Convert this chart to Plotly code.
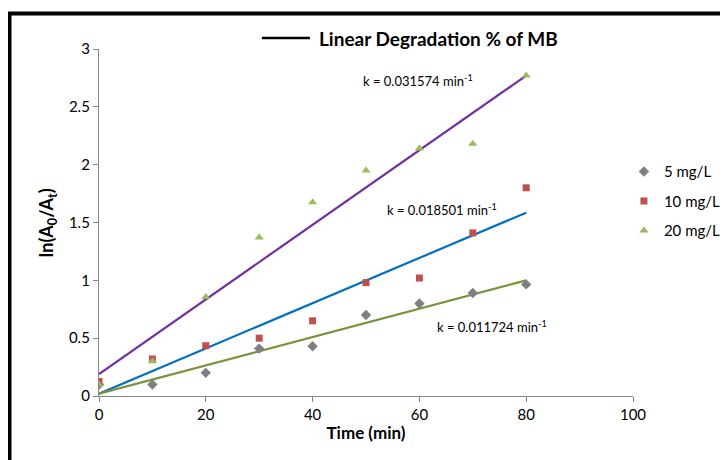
import plotly.graph_objects as go

# ---- data ----
time_min = [0, 10, 20, 30, 40, 50, 60, 70, 80]
mg5 = [0.10, 0.10, 0.20, 0.41, 0.43, 0.70, 0.80, 0.89, 0.965]
mg10 = [0.125, 0.32, 0.435, 0.50, 0.65, 0.98, 1.02, 1.41, 1.80]
mg20 = [0.10, 0.30, 0.855, 1.37, 1.675, 1.95, 2.14, 2.18, 2.77]

fit_x = [0, 80]
fit20 = [0.19, 2.77]
fit10 = [0.02, 1.585]
fit5 = [0.02, 1.00]

k_labels = ["k = 0.031574 min<sup>-1</sup>",
            "k = 0.018501 min<sup>-1</sup>",
            "k = 0.011724 min<sup>-1</sup>"]
k_x = [59.7, 64.2, 73.6]
k_y = [2.73, 1.61, 0.605]

x_ticks = [0, 20, 40, 60, 80, 100]
y_ticks = [0, 0.5, 1, 1.5, 2, 2.5, 3]

FONT = "Lato, 'Open Sans', sans-serif"

fig = go.Figure()

# fit lines (no legend)
fig.add_trace(go.Scatter(x=fit_x, y=fit20, mode="lines", line=dict(color="#7030a0", width=2.2),
                         showlegend=False, hoverinfo="skip"))
fig.add_trace(go.Scatter(x=fit_x, y=fit10, mode="lines", line=dict(color="#0070c0", width=2.2),
                         showlegend=False, hoverinfo="skip"))
fig.add_trace(go.Scatter(x=fit_x, y=fit5, mode="lines", line=dict(color="#77933c", width=2.2),
                         showlegend=False, hoverinfo="skip"))

# data points
fig.add_trace(go.Scatter(x=time_min, y=mg5, mode="markers", name="5 mg/L", legendgroup="a",
                         marker=dict(symbol="diamond", size=8, color="#7f7f7f")))
fig.add_trace(go.Scatter(x=time_min, y=mg10, mode="markers", name="10 mg/L", legendgroup="b",
                         marker=dict(symbol="square", size=7, color="#c0504d")))
fig.add_trace(go.Scatter(x=time_min, y=mg20, mode="markers", name="20 mg/L", legendgroup="c",
                         marker=dict(symbol="triangle-up", size=8, color="#9bbb59")))

for t, x, y in zip(k_labels, k_x, k_y):
    fig.add_annotation(x=x, y=y, text=t, showarrow=False, xref="x", yref="y",
                       xanchor="center", yanchor="middle",
                       font=dict(size=13, color="#000000", family=FONT))

# y-axis title
fig.add_annotation(x=-0.096, y=0.50, xref="paper", yref="paper", showarrow=False,
                   xanchor="center", yanchor="middle",
                   text="<b>ln(A<sub>0</sub>/A<sub>t</sub>)</b>", textangle=-90,
                   font=dict(size=18, color="#000000", family=FONT))

# chart title with leading black line
fig.add_annotation(x=0.408, y=1.0317, xref="paper", yref="paper", showarrow=False,
                   xanchor="left", yanchor="middle",
                   text="<b>Linear Degradation % of MB</b>",
                   font=dict(size=19, color="#000000", family=FONT))
fig.add_shape(type="line", xref="paper", yref="paper", x0=0.305, x1=0.395, y0=1.0317, y1=1.0317,
              line=dict(color="#000000", width=2.5))

# outer black frame (extends beyond the visible page on right/bottom)
fig.add_shape(type="rect", xref="paper", yref="paper", x0=-0.1676, x1=1.25, y0=-0.25, y1=1.1023,
              line=dict(color="#000000", width=4), fillcolor="rgba(0,0,0,0)", layer="above")

# the page body adds an 8px offset, so the figure is 8px smaller to fill the window
fig.update_layout(
    width=720, height=452,
    margin=dict(l=91, r=95, t=41, b=64, autoexpand=False),
    paper_bgcolor="#ffffff", plot_bgcolor="#ffffff",
    font=dict(family=FONT, size=15, color="#000000"),
    showlegend=True,
    legend=dict(x=0.983, y=0.694, xanchor="left", yanchor="top",
                font=dict(size=15, color="#000000", family=FONT),
                tracegroupgap=7, traceorder="grouped", bgcolor="rgba(0,0,0,0)",
                itemwidth=30),
    xaxis=dict(range=[0, 100], tickvals=x_ticks, ticks="outside", ticklen=5,
               tickcolor="#868686", showline=True, linecolor="#868686", linewidth=1.3,
               showgrid=False, zeroline=False, tickfont=dict(size=15),
               title=dict(text="<b>Time (min)</b>", font=dict(size=17), standoff=4)),
    yaxis=dict(range=[0, 3], tickvals=y_ticks, ticks="outside", ticklen=5,
               tickcolor="#868686", showline=True, linecolor="#868686", linewidth=1.3,
               showgrid=False, zeroline=False, tickfont=dict(size=15)),
)

fig.write_html("out.html")
